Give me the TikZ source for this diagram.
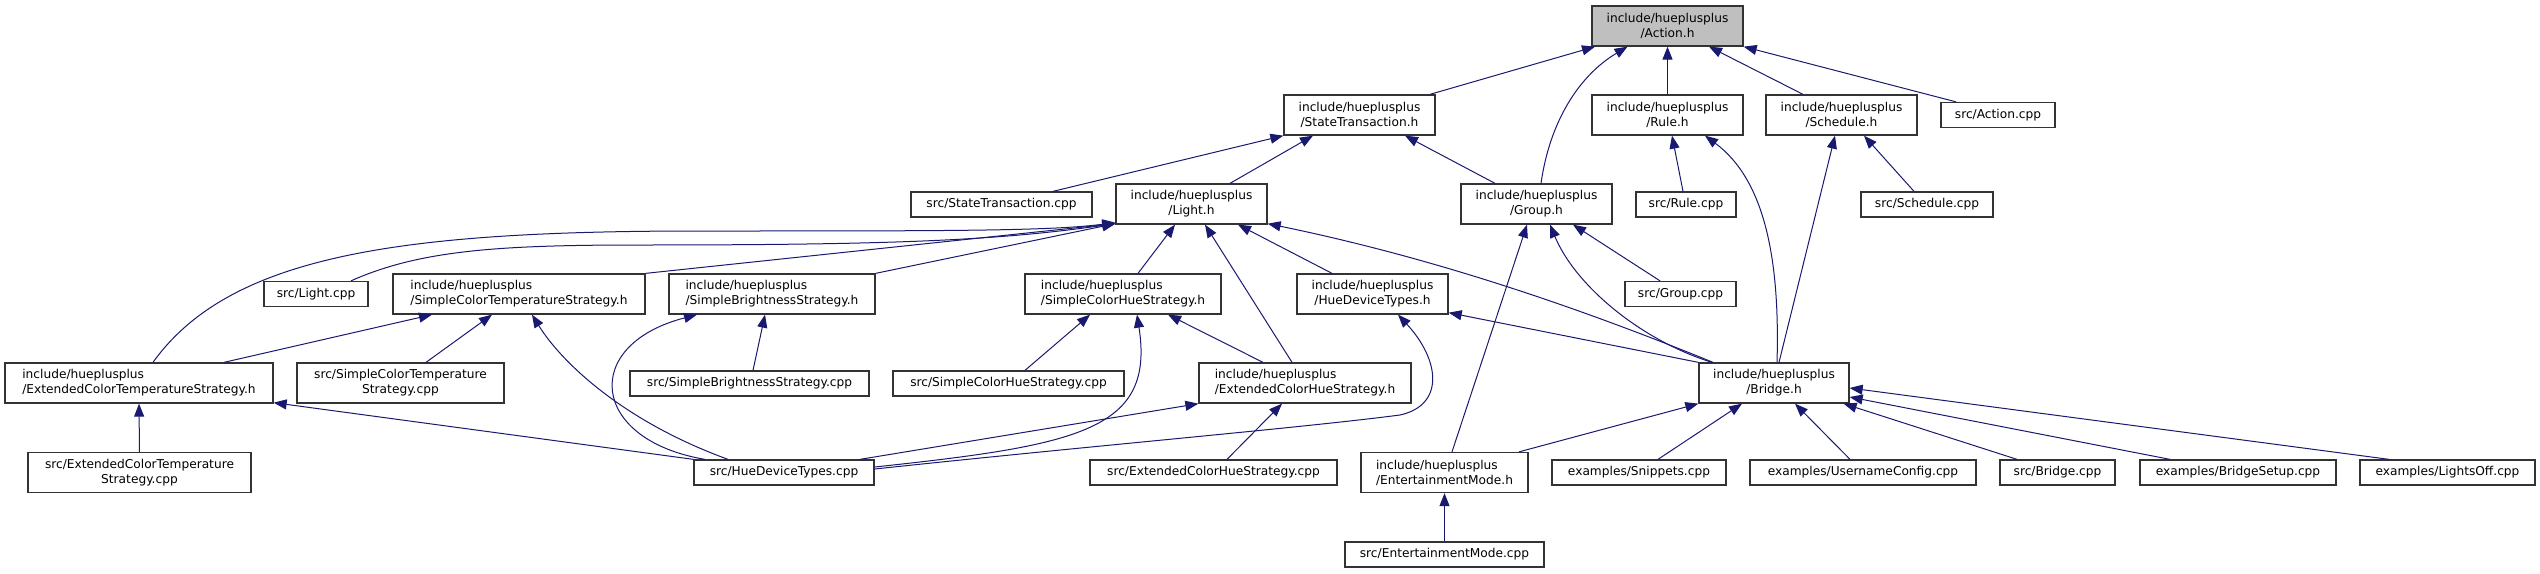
\documentclass[tikz,border=0pt]{standalone}
\usepackage{fontspec}
\setmainfont{DejaVu Sans}
\usetikzlibrary{arrows.meta}

\definecolor{edgeblue}{HTML}{191970}
\definecolor{boxline}{HTML}{333333}
\definecolor{mainfill}{HTML}{BFBFBF}

\tikzset{
  filebox/.style={draw=boxline, line width=1.3pt, fill=white, inner sep=0pt, align=center,
    font=\fontsize{12.2}{15}\selectfont, minimum height=25pt},
  hdrbox/.style={filebox, minimum height=40pt},
  incl/.style={draw=edgeblue, line width=1pt, -{Triangle[length=13pt,width=10pt]}},
}

\begin{document}
\begin{tikzpicture}[x=1pt,y=-1pt]
  \useasboundingbox (0,0) rectangle (2540,573);

  % Headers and sources
  \node[hdrbox, fill=mainfill, minimum width=151pt] (actionH) at (1667.5,26) {include/hueplusplus\\/Action.h};

  \node[hdrbox, minimum width=151pt] (stH) at (1359.5,115) {include/hueplusplus\\/StateTransaction.h};
  \node[hdrbox, minimum width=151pt] (ruleH) at (1667.5,115) {include/hueplusplus\\/Rule.h};
  \node[hdrbox, minimum width=151pt] (scheduleH) at (1841.5,115) {include/hueplusplus\\/Schedule.h};
  \node[filebox, minimum width=114pt] (actionCpp) at (1998,115) {src/Action.cpp};

  \node[filebox, minimum width=181pt] (stCpp) at (1001.5,204.5) {src/StateTransaction.cpp};
  \node[hdrbox, minimum width=151pt] (lightH) at (1191.5,204) {include/hueplusplus\\/Light.h};
  \node[hdrbox, minimum width=151pt] (groupH) at (1536.5,204) {include/hueplusplus\\/Group.h};
  \node[filebox, minimum width=100pt] (ruleCpp) at (1686,204.5) {src/Rule.cpp};
  \node[filebox, minimum width=132pt] (scheduleCpp) at (1927,204.5) {src/Schedule.cpp};

  \node[filebox, minimum width=104pt] (lightCpp) at (316,294) {src/Light.cpp};
  \node[hdrbox, align=left, minimum width=252pt] (sctsH) at (519,294) {include/hueplusplus\\/SimpleColorTemperatureStrategy.h};
  \node[hdrbox, align=left, minimum width=206pt] (sbsH) at (772,294) {include/hueplusplus\\/SimpleBrightnessStrategy.h};
  \node[hdrbox, align=left, minimum width=196pt] (schsH) at (1123,294) {include/hueplusplus\\/SimpleColorHueStrategy.h};
  \node[hdrbox, minimum width=151pt] (hdtH) at (1372.5,294) {include/hueplusplus\\/HueDeviceTypes.h};
  \node[filebox, minimum width=111pt] (groupCpp) at (1680.5,294) {src/Group.cpp};

  \node[hdrbox, align=left, minimum width=268pt] (ectsH) at (139,383) {include/hueplusplus\\/ExtendedColorTemperatureStrategy.h};
  \node[hdrbox, minimum width=207pt] (sctsCpp) at (400.5,383) {src/SimpleColorTemperature\\Strategy.cpp};
  \node[filebox, minimum width=239pt] (sbsCpp) at (749.5,383.5) {src/SimpleBrightnessStrategy.cpp};
  \node[filebox, minimum width=231pt] (schsCpp) at (1008.5,383.5) {src/SimpleColorHueStrategy.cpp};
  \node[hdrbox, align=left, minimum width=212pt] (echsH) at (1305,383) {include/hueplusplus\\/ExtendedColorHueStrategy.h};
  \node[hdrbox, minimum width=150pt] (bridgeH) at (1774,383) {include/hueplusplus\\/Bridge.h};

  \node[hdrbox, minimum width=223pt] (ectsCpp) at (139.5,472.5) {src/ExtendedColorTemperature\\Strategy.cpp};
  \node[filebox, minimum width=180pt] (hdtCpp) at (784,472.5) {src/HueDeviceTypes.cpp};
  \node[filebox, minimum width=247pt] (echsCpp) at (1213.5,472.5) {src/ExtendedColorHueStrategy.cpp};
  \node[hdrbox, align=left, minimum width=167pt] (emH) at (1444.5,472.5) {include/hueplusplus\\/EntertainmentMode.h};
  \node[filebox, minimum width=174pt] (snippets) at (1639,472.5) {examples/Snippets.cpp};
  \node[filebox, minimum width=226pt] (username) at (1863,472.5) {examples/UsernameConfig.cpp};
  \node[filebox, minimum width=115pt] (bridgeCpp) at (2057.5,472.5) {src/Bridge.cpp};
  \node[filebox, minimum width=196pt] (bridgeSetup) at (2238,472.5) {examples/BridgeSetup.cpp};
  \node[filebox, minimum width=175pt] (lightsOff) at (2447.5,472.5) {examples/LightsOff.cpp};

  \node[filebox, minimum width=199pt] (emCpp) at (1444.5,554.5) {src/EntertainmentMode.cpp};

  % Action.h
  \draw[incl] ([xshift=70.5pt]stH.north) -- ([xshift=-72.5pt]actionH.south);
  \draw[incl] ([xshift=4.5pt]groupH.north) .. controls (1550,120) and (1580,75) .. ([xshift=-40pt]actionH.south);
  \draw[incl] (ruleH.north) -- (actionH.south);
  \draw[incl] ([xshift=-38.5pt]scheduleH.north) -- ([xshift=41.5pt]actionH.south);
  \draw[incl] ([xshift=-42pt]actionCpp.north) -- (actionH.south east);

  % StateTransaction.h, Rule.h, Schedule.h
  \draw[incl] ([xshift=51.5pt]stCpp.north) -- (stH.south west);
  \draw[incl] ([xshift=38.5pt]lightH.north) -- ([xshift=-46.5pt]stH.south);
  \draw[incl] ([xshift=-41.5pt]groupH.north) -- ([xshift=45.5pt]stH.south);
  \draw[incl] ([xshift=-3pt]ruleCpp.north) -- ([xshift=4.5pt]ruleH.south);
  \draw[incl] ([xshift=3pt]bridgeH.north) .. controls (1780,260) and (1765,180) .. ([xshift=37.5pt]ruleH.south);
  \draw[incl] ([xshift=5pt]bridgeH.north) -- ([xshift=-6.5pt]scheduleH.south);
  \draw[incl] ([xshift=-13pt]scheduleCpp.north) -- ([xshift=22.5pt]scheduleH.south);

  % Light.h
  \draw[incl] ([xshift=14pt]ectsH.north) .. controls (230,255) and (400,231) .. (700,231)
    .. controls (950,231) and (1050,231) .. ([yshift=2pt]lightH.south west);
  \draw[incl] ([xshift=35pt]lightCpp.north) .. controls (420,250) and (500,245) .. (640,245)
    .. controls (900,245) and (1000,240) .. ([yshift=1pt]lightH.south west);
  \draw[incl] (sctsH.north east) -- ([yshift=1pt]lightH.south west);
  \draw[incl] (sbsH.north east) -- ([yshift=1pt]lightH.south west);
  \draw[incl] ([xshift=15pt]schsH.north) -- ([xshift=-16.5pt]lightH.south);
  \draw[incl] ([xshift=-13pt]echsH.north) -- ([xshift=13.5pt]lightH.south);
  \draw[incl] ([xshift=-40.5pt]hdtH.north) -- ([xshift=46.5pt]lightH.south);
  \draw[incl] ([xshift=-61pt]bridgeH.north) .. controls (1560,300) and (1420,255) .. ([yshift=1pt]lightH.south east);

  % Group.h
  \draw[incl] ([xshift=7.5pt]emH.north) -- ([xshift=-9.5pt]groupH.south);
  \draw[incl] ([xshift=-62pt]bridgeH.north) .. controls (1640,340) and (1575,285) .. ([xshift=13.5pt]groupH.south);
  \draw[incl] ([xshift=-20.5pt]groupCpp.north) -- ([xshift=36.5pt]groupH.south);

  % strategies
  \draw[incl] ([xshift=85pt]ectsH.north) -- ([xshift=-87pt]sctsH.south);
  \draw[incl] ([xshift=25.5pt]sctsCpp.north) -- ([xshift=-27pt]sctsH.south);
  \draw[incl] ([xshift=-56pt]hdtCpp.north) .. controls (620,420) and (560,360) .. ([xshift=13pt]sctsH.south);
  \draw[incl] ([xshift=3.5pt]sbsCpp.north) -- ([xshift=-7pt]sbsH.south);
  \draw[incl] ([xshift=-79pt]hdtCpp.north) .. controls (590,440) and (580,345) .. ([xshift=-75pt]sbsH.south);
  \draw[incl] ([xshift=16.5pt]schsCpp.north) -- ([xshift=-33pt]schsH.south);
  \draw[incl] ([yshift=5.5pt]hdtCpp.east) .. controls (1080,445) and (1155,430) .. ([xshift=14pt]schsH.south);
  \draw[incl] ([xshift=-42pt]echsH.north) -- ([xshift=45pt]schsH.south);
  \draw[incl] (ectsCpp.north) -- (ectsH.south);
  \draw[incl] (hdtCpp.north west) -- ([yshift=1pt]ectsH.south east);
  \draw[incl] ([xshift=76pt]hdtCpp.north) -- (echsH.south west);
  \draw[incl] ([xshift=13.5pt]echsCpp.north) -- ([xshift=-23pt]echsH.south);

  % HueDeviceTypes.h
  \draw[incl] (bridgeH.north west) -- ([yshift=2pt]hdtH.south east);
  \draw[incl] ([yshift=3.5pt]hdtCpp.east) .. controls (1100,445) and (1300,428) .. (1400,415)
    .. controls (1445,405) and (1440,360) .. ([xshift=25.5pt]hdtH.south);

  % Bridge.h
  \draw[incl] ([xshift=74.5pt]emH.north) -- (bridgeH.south west);
  \draw[incl] ([xshift=19pt]snippets.north) -- ([xshift=-32pt]bridgeH.south);
  \draw[incl] ([xshift=-13pt]username.north) -- ([xshift=21pt]bridgeH.south);
  \draw[incl] ([xshift=-40.5pt]bridgeCpp.north) -- ([xshift=-6pt]bridgeH.south east);
  \draw[incl] ([xshift=-68pt]bridgeSetup.north) -- ([yshift=-14pt]bridgeH.east);
  \draw[incl] ([xshift=-58.5pt]lightsOff.north) -- ([yshift=-5pt]bridgeH.east);

  % EntertainmentMode.h
  \draw[incl] (emCpp.north) -- (emH.south);
\end{tikzpicture}
\end{document}
